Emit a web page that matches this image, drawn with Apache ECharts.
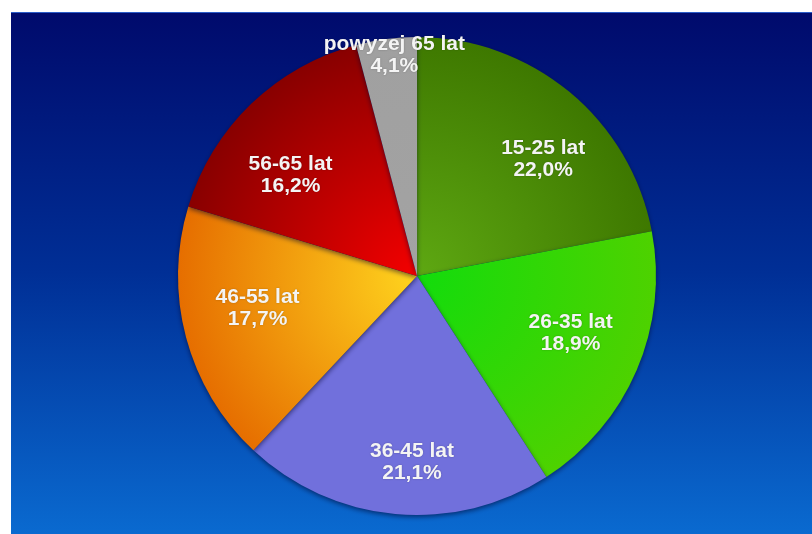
<!DOCTYPE html>
<html>
<head>
<meta charset="utf-8">
<script src="https://cdn.jsdelivr.net/npm/echarts@6/dist/echarts.min.js"></script>
<style>
html,body{margin:0;padding:0;background:#ffffff;}
#chart{width:812px;height:534px;}
</style>
</head>
<body>
<div id="chart"></div>
<script>
const categories = ['15-25 lat', '26-35 lat', '36-45 lat', '46-55 lat', '56-65 lat', 'powyzej 65 lat'];
const values = [22.0, 18.9, 21.1, 17.7, 16.2, 4.1];
const innerColors = ['#5ea812', '#12dc0c', '#7170dc', '#ffd41e', '#f40000', '#a3a3a3'];
const outerColors = ['#3e7800', '#4ed200', '#7170dc', '#e66e00', '#880000', '#a0a0a0'];
// label nudges (style only), relative to the mid-angle placement
const labelNudges = [[21, 10], [2, -8], [10, 22], [0, -10], [-12, 18], [7, 8]];

const CX = 417, CY = 276, R = 239;

function fmt(v) { return v.toFixed(1).replace('.', ','); }

const pieData = categories.map((c, i) => ({
  name: c,
  value: values[i],
  itemStyle: {
    color: {
      type: 'radial', x: CX, y: CY, r: R, global: true,
      colorStops: [{ offset: 0, color: innerColors[i] }, { offset: 1, color: outerColors[i] }]
    }
  }
}));

const labelStyle = {
  position: 'inside',
  formatter: p => p.name + '\n' + fmt(p.value) + '%',
  color: '#f4f4f4',
  fontFamily: 'Liberation Sans, Arial, sans-serif',
  fontWeight: 'bold',
  fontSize: 21,
  lineHeight: 22,
  textShadowColor: 'rgba(0,0,0,0.25)',
  textShadowBlur: 2
};

const mainLabelData = categories.map((c, i) => ({
  name: c, value: values[i],
  label: { show: i < categories.length - 1, offset: labelNudges[i] }
}));
const smallLabelData = categories.map((c, i) => ({
  name: c, value: values[i],
  label: { show: i === categories.length - 1, offset: labelNudges[i] }
}));

const chart = echarts.init(document.getElementById('chart'), null, { renderer: 'canvas' });
chart.setOption({
  animation: false,
  backgroundColor: '#ffffff',
  graphic: [
    {
      type: 'rect', z: -10,
      shape: { x: 11, y: 12, width: 801, height: 522 },
      style: {
        fill: {
          type: 'linear', x: 0, y: 0, x2: 0, y2: 1,
          colorStops: [
            { offset: 0, color: '#000a6c' },
            { offset: 0.5, color: '#002f96' },
            { offset: 1, color: '#0a6ad0' }
          ]
        }
      }
    },
    {
      type: 'rect', z: -9,
      shape: { x: 11, y: 12, width: 801, height: 1 },
      style: { fill: '#2a5cc8' }
    }
  ],
  series: [
    {
      type: 'pie',
      center: [CX, CY],
      radius: [0, R],
      startAngle: 90,
      clockwise: true,
      silent: true,
      label: { show: false },
      labelLine: { show: false },
      itemStyle: {
        borderWidth: 0,
        shadowBlur: 5,
        shadowColor: 'rgba(0,0,40,0.55)',
        shadowOffsetY: 2
      },
      data: pieData
    },
    {
      type: 'pie',
      center: [CX, CY],
      radius: [150, 174],
      startAngle: 90,
      clockwise: true,
      silent: true,
      itemStyle: { color: 'rgba(0,0,0,0)' },
      label: labelStyle,
      labelLine: { show: false },
      data: mainLabelData
    },
    {
      type: 'pie',
      center: [CX, CY],
      radius: [212, 244],
      startAngle: 90,
      clockwise: true,
      silent: true,
      itemStyle: { color: 'rgba(0,0,0,0)' },
      label: labelStyle,
      labelLine: { show: false },
      data: smallLabelData
    }
  ]
});
</script>
</body>
</html>
